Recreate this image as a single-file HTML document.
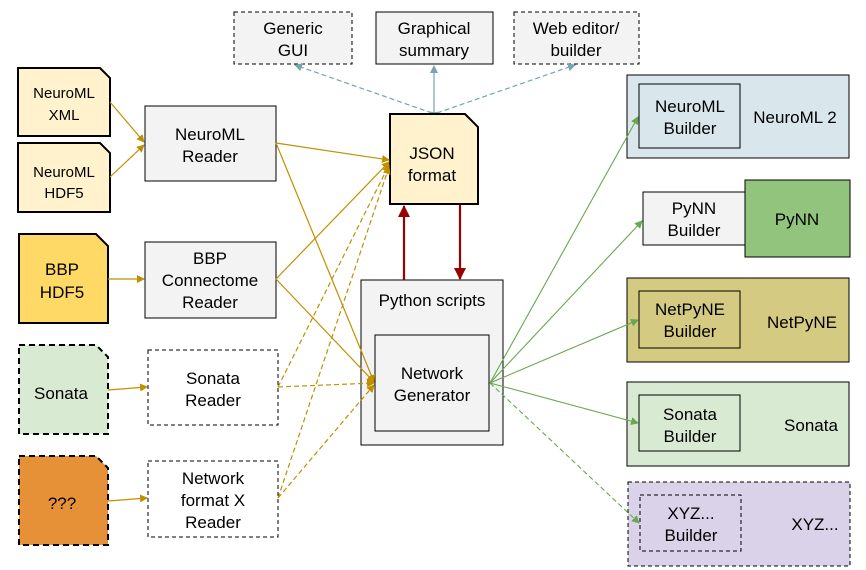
<!DOCTYPE html>
<html><head><meta charset="utf-8"><style>html,body{margin:0;padding:0;background:#fff}svg{display:block}text{font-family:"Liberation Sans",sans-serif;font-size:17px;fill:#000;text-anchor:middle}</style></head><body>
<svg width="866" height="570" viewBox="0 0 866 570" xmlns="http://www.w3.org/2000/svg">
<defs>
<marker id="g" markerWidth="8" markerHeight="8" refX="7" refY="4" orient="auto" markerUnits="userSpaceOnUse"><path d="M0,0L8,4L0,8z" fill="#bf9000"/></marker>
<marker id="gr" markerWidth="8" markerHeight="8" refX="7" refY="4" orient="auto" markerUnits="userSpaceOnUse"><path d="M0,0L8,4L0,8z" fill="#6aa84f"/></marker>
<marker id="b" markerWidth="8" markerHeight="8" refX="7" refY="4" orient="auto" markerUnits="userSpaceOnUse"><path d="M0,0L8,4L0,8z" fill="#76a5af"/></marker>
<marker id="r" markerWidth="12" markerHeight="12" refX="11" refY="6" orient="auto" markerUnits="userSpaceOnUse"><path d="M0,0L12,6L0,12z" fill="#990000"/></marker>
</defs>
<!-- top boxes -->
<rect x="234" y="12" width="118" height="52" fill="#f3f3f3" stroke="#000" stroke-dasharray="4,3"/>
<text x="293" y="34">Generic</text><text x="293" y="56">GUI</text>
<rect x="376" y="12" width="117" height="52" fill="#f3f3f3" stroke="#000"/>
<text x="434" y="34">Graphical</text><text x="434" y="56">summary</text>
<rect x="514" y="12" width="125" height="52" fill="#f3f3f3" stroke="#000" stroke-dasharray="4,3"/>
<text x="576" y="34">Web editor/</text><text x="576" y="56">builder</text>
<g stroke="#76a5af" stroke-width="1.2" fill="none">
<line x1="432" y1="113" x2="295" y2="65" stroke-dasharray="5,3" marker-end="url(#b)" marker-start="url(#b)"/>
<line x1="434" y1="113" x2="434" y2="66" marker-end="url(#b)"/>
<line x1="437" y1="113" x2="575" y2="65" stroke-dasharray="5,3" marker-end="url(#b)" marker-start="url(#b)"/>
</g>
<!-- left docs -->
<path d="M18,68H100L110,78V136H18Z" fill="#fff2cc" stroke="#000" stroke-width="2"/>
<text x="64" y="98" style="font-size:15px">NeuroML</text><text x="64" y="120" style="font-size:15px">XML</text>
<path d="M18,143H100L110,153V212H18Z" fill="#fff2cc" stroke="#000" stroke-width="2"/>
<text x="64" y="177" style="font-size:15px">NeuroML</text><text x="64" y="198" style="font-size:15px">HDF5</text>
<path d="M19,234H96L108,246V323H19Z" fill="#ffd966" stroke="#000" stroke-width="2"/>
<text x="62" y="275">BBP</text><text x="62" y="298">HDF5</text>
<path d="M19,345H96L108,357V434H19Z" fill="#d9ead3" stroke="#000" stroke-width="2" stroke-dasharray="6,4"/>
<text x="61" y="399">Sonata</text>
<path d="M19,456H96L108,468V545H19Z" fill="#e69138" stroke="#000" stroke-width="2" stroke-dasharray="6,4"/>
<text x="62" y="509">???</text>
<!-- readers -->
<rect x="145" y="106" width="131" height="75" fill="#f3f3f3" stroke="#000"/>
<text x="210" y="140">NeuroML</text><text x="210" y="162">Reader</text>
<rect x="145" y="242" width="131" height="76" fill="#f3f3f3" stroke="#000"/>
<text x="210" y="264">BBP</text><text x="210" y="286">Connectome</text><text x="210" y="308">Reader</text>
<rect x="148" y="350" width="130" height="75" fill="#fff" stroke="#000" stroke-dasharray="4,3"/>
<text x="213" y="384">Sonata</text><text x="213" y="406">Reader</text>
<rect x="148" y="461" width="130" height="76" fill="#fff" stroke="#000" stroke-dasharray="4,3"/>
<text x="213" y="484">Network</text><text x="213" y="506">format X</text><text x="213" y="528">Reader</text>
<!-- JSON -->
<path d="M390,114H465L478,127V204H390Z" fill="#fff2cc" stroke="#000" stroke-width="2"/>
<text x="432" y="159">JSON</text><text x="432" y="181">format</text>
<!-- python -->
<rect x="361" y="280" width="142" height="165" fill="#f3f3f3" stroke="#000"/>
<text x="432" y="306">Python scripts</text>
<rect x="375" y="335" width="114" height="96" fill="#f3f3f3" stroke="#000"/>
<text x="432" y="379">Network</text><text x="432" y="401">Generator</text>
<line x1="404" y1="280" x2="404" y2="206" stroke="#990000" stroke-width="2.2" marker-end="url(#r)"/>
<line x1="460" y1="205" x2="460" y2="279" stroke="#990000" stroke-width="2.2" marker-end="url(#r)"/>
<!-- gold arrows -->
<g stroke="#bf9000" stroke-width="1.2" fill="none">
<line x1="110" y1="102" x2="144" y2="142" marker-end="url(#g)"/>
<line x1="110" y1="177" x2="144" y2="145" marker-end="url(#g)"/>
<line x1="108" y1="279" x2="144" y2="279" marker-end="url(#g)"/>
<line x1="108" y1="390" x2="147" y2="387" marker-end="url(#g)"/>
<line x1="108" y1="501" x2="147" y2="498" marker-end="url(#g)"/>
<line x1="276" y1="143" x2="389" y2="160" marker-end="url(#g)"/>
<line x1="276" y1="143" x2="374" y2="382" marker-end="url(#g)"/>
<line x1="276" y1="279" x2="389" y2="162" marker-end="url(#g)"/>
<line x1="276" y1="279" x2="374" y2="382" marker-end="url(#g)"/>
<g stroke-dasharray="5,3">
<line x1="278" y1="387" x2="389" y2="165" marker-end="url(#g)"/>
<line x1="278" y1="387" x2="374" y2="383" marker-end="url(#g)"/>
<line x1="278" y1="498" x2="389" y2="167" marker-end="url(#g)"/>
<line x1="278" y1="498" x2="374" y2="385" marker-end="url(#g)"/>
</g></g>
<!-- right side -->
<rect x="627" y="75" width="222" height="83" fill="#d9e7ec" stroke="#000"/>
<rect x="639" y="84" width="101" height="64" fill="#d9e7ec" stroke="#000"/>
<text x="690" y="112">NeuroML</text><text x="690" y="134">Builder</text>
<text x="795" y="123">NeuroML 2</text>
<rect x="643" y="192" width="102" height="53" fill="#f3f3f3" stroke="#000"/>
<text x="694" y="214">PyNN</text><text x="694" y="236">Builder</text>
<rect x="745" y="180" width="105" height="77" fill="#93c47d" stroke="#000"/>
<text x="797" y="225">PyNN</text>
<rect x="627" y="278" width="222" height="84" fill="#d5ca82" stroke="#000"/>
<rect x="639" y="291" width="101" height="57" fill="#d5ca82" stroke="#000"/>
<text x="690" y="315">NetPyNE</text><text x="690" y="337">Builder</text>
<text x="802" y="328">NetPyNE</text>
<rect x="627" y="382" width="222" height="84" fill="#d9ead3" stroke="#000"/>
<rect x="639" y="395" width="101" height="56" fill="#d9ead3" stroke="#000"/>
<text x="690" y="420">Sonata</text><text x="690" y="442">Builder</text>
<text x="811" y="431">Sonata</text>
<rect x="628" y="482" width="222" height="84" fill="#d9d2e9" stroke="#000" stroke-dasharray="4,3"/>
<rect x="640" y="495" width="101" height="56" fill="#d9d2e9" stroke="#000" stroke-dasharray="4,3"/>
<text x="691" y="519">XYZ...</text><text x="691" y="541">Builder</text>
<text x="815" y="530">XYZ...</text>
<g stroke="#6aa84f" stroke-width="1.1" fill="none">
<line x1="490" y1="383" x2="638" y2="117" marker-end="url(#gr)"/>
<line x1="490" y1="383" x2="642" y2="221" marker-end="url(#gr)"/>
<line x1="490" y1="383" x2="638" y2="320" marker-end="url(#gr)"/>
<line x1="490" y1="383" x2="638" y2="423" marker-end="url(#gr)"/>
<line x1="490" y1="383" x2="639" y2="523" stroke-dasharray="5,3" marker-end="url(#gr)"/>
</g>
</svg>
</body></html>
